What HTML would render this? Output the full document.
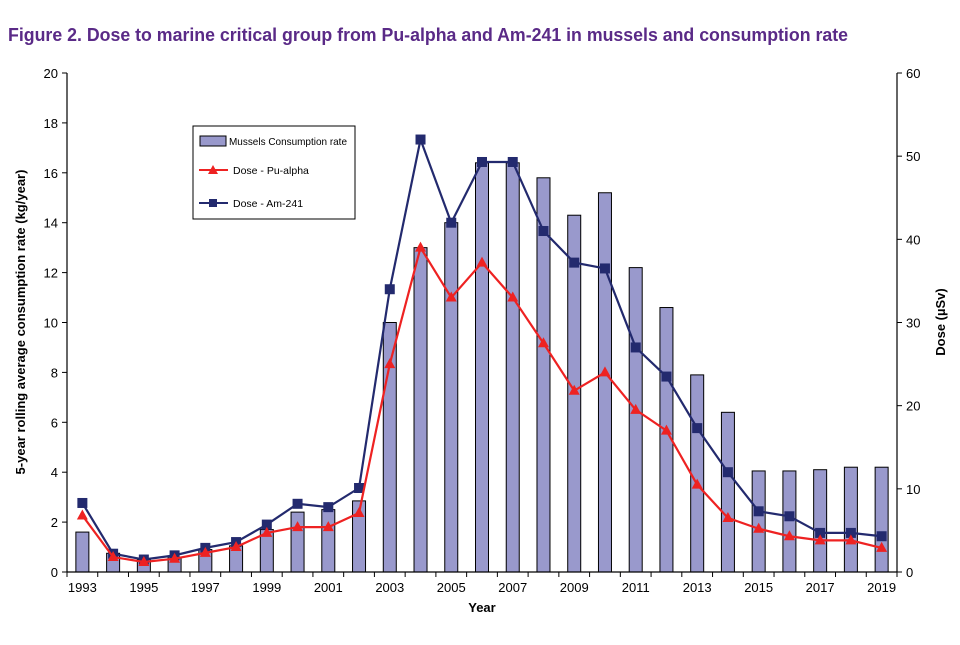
<!DOCTYPE html>
<html><head><meta charset="utf-8"><style>
body{margin:0;background:#fff;width:960px;height:640px;overflow:hidden;font-family:"Liberation Sans",sans-serif}
</style></head><body>
<svg id="chart" width="960" height="640" xmlns="http://www.w3.org/2000/svg" font-family="Liberation Sans, sans-serif">
<text x="8" y="41" font-size="18" font-weight="bold" fill="#5a2a87" textLength="840" lengthAdjust="spacingAndGlyphs">Figure 2.   Dose to marine critical group from Pu-alpha and Am-241 in mussels and consumption rate</text>
<g id="plot"></g>
<text x="482" y="612" font-size="13" font-weight="bold" text-anchor="middle">Year</text>
<text transform="translate(25,322) rotate(-90)" font-size="13" font-weight="bold" text-anchor="middle">5-year rolling average consumption rate (kg/year)</text>
<text transform="translate(945,322) rotate(-90)" font-size="13" font-weight="bold" text-anchor="middle">Dose (µSv)</text>
<g>
<rect x="193" y="126" width="162" height="93" fill="#fff" stroke="#000" stroke-width="1"/>
<rect x="200" y="136" width="26" height="10" fill="#9999cc" stroke="#000" stroke-width="1"/>
<text x="229" y="145" font-size="10.5" textLength="118" lengthAdjust="spacingAndGlyphs">Mussels Consumption rate</text>
<line x1="199" y1="170" x2="228" y2="170" stroke="#ee2222" stroke-width="2"/>
<polygon points="213,165 218,174 208,174" fill="#ee2222"/>
<text x="233" y="174" font-size="10.5">Dose - Pu-alpha</text>
<line x1="199" y1="203" x2="228" y2="203" stroke="#232a6e" stroke-width="2"/>
<rect x="209" y="199" width="8" height="8" fill="#232a6e"/>
<text x="233" y="207" font-size="10.5">Dose - Am-241</text>
</g>
</svg>
<script>
const years=[1993,1994,1995,1996,1997,1998,1999,2000,2001,2002,2003,2004,2005,2006,2007,2008,2009,2010,2011,2012,2013,2014,2015,2016,2017,2018,2019];
const consumption=[1.6,0.75,0.5,0.6,0.9,1.05,1.7,2.4,2.5,2.85,10,13,14,16.4,16.4,15.8,14.3,15.2,12.2,10.6,7.9,6.4,4.05,4.05,4.1,4.2,4.2];
const doseAm=[8.3,2.2,1.5,2.0,2.9,3.6,5.7,8.2,7.8,10.1,34,52,42,49.3,49.3,41,37.2,36.5,27,23.5,17.3,12,7.3,6.7,4.7,4.7,4.3];
const dosePu=[6.8,1.8,1.2,1.6,2.3,3.0,4.7,5.4,5.4,7.1,25,39,33,37.2,33,27.5,21.8,24,19.5,17,10.5,6.5,5.2,4.3,3.8,3.8,2.9];
const leftTicks=[0,2,4,6,8,10,12,14,16,18,20];
const rightTicks=[0,10,20,30,40,50,60];
const L=67,R=897,T=73,B=572;
const NS="http://www.w3.org/2000/svg";
const g=document.getElementById('plot');
const bw=(R-L)/years.length;
function x(i){return L+bw*(i+0.5);}
function yl(v){return B-(B-T)*v/20;}
function yr(v){return B-(B-T)*v/60;}
function mk(t,a){const e=document.createElementNS(NS,t);for(const k in a)e.setAttribute(k,a[k]);g.appendChild(e);return e;}
consumption.forEach((v,i)=>{
 const r=mk('rect',{x:x(i)-6.5,y:yl(v),width:13,height:B-yl(v),fill:'#9999cc',stroke:'#000','stroke-width':1});
 
 
});
let a=mk('line',{x1:L,y1:T,x2:L,y2:B,stroke:'#000','stroke-width':1.2});

a=mk('line',{x1:R,y1:T,x2:R,y2:B,stroke:'#000','stroke-width':1.2});

a=mk('line',{x1:L,y1:B,x2:R,y2:B,stroke:'#000','stroke-width':1.2});

leftTicks.forEach(v=>{
 mk('line',{x1:L-5,y1:yl(v),x2:L,y2:yl(v),stroke:'#000'});
 const t=mk('text',{x:L-9,y:yl(v)+5,'font-size':13,'text-anchor':'end'});t.textContent=v;
 
});
rightTicks.forEach(v=>{
 mk('line',{x1:R,y1:yr(v),x2:R+5,y2:yr(v),stroke:'#000'});
 const t=mk('text',{x:R+9,y:yr(v)+5,'font-size':13});t.textContent=v;
 
});
for(let i=0;i<=years.length;i++)mk('line',{x1:L+bw*i,y1:B,x2:L+bw*i,y2:B+5,stroke:'#000'});
years.forEach((yv,i)=>{if(i%2===0){const t=mk('text',{x:x(i),y:B+20,'font-size':13,'text-anchor':'middle'});t.textContent=yv;
 }});
function series(vals,color,name,marker){
 const p=mk('polyline',{points:vals.map((v,i)=>x(i)+','+yr(v)).join(' '),fill:'none',stroke:color,'stroke-width':2.2});
 
 vals.forEach((v,i)=>{let m;const cx=x(i),cy=yr(v);
  if(marker==='sq')m=mk('rect',{x:cx-5,y:cy-5,width:10,height:10,fill:color});
  else m=mk('polygon',{points:`${cx},${cy-6} ${cx+5.5},${cy+4} ${cx-5.5},${cy+4}`,fill:color});
  });
}
series(doseAm,'#232a6e','am-241','sq');
series(dosePu,'#ee2222','pu-alpha','tri');
</script>
</body></html>
